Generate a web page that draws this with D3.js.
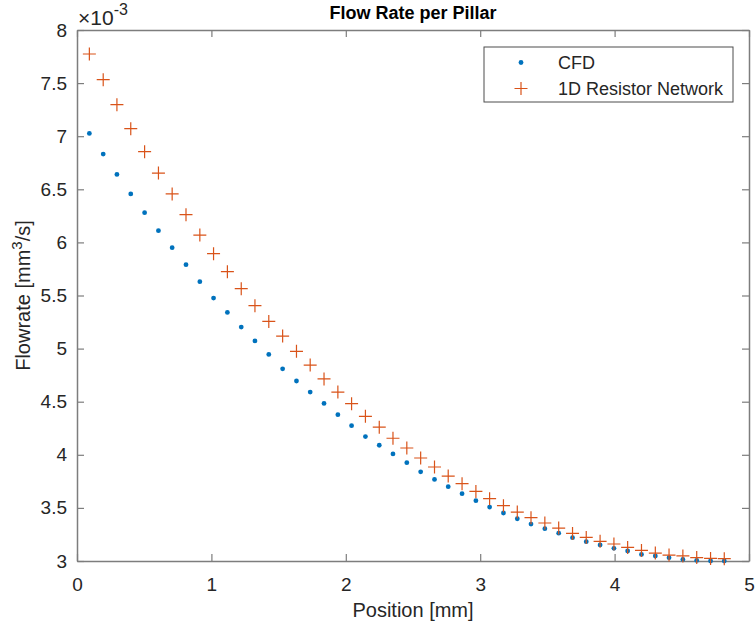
<!DOCTYPE html>
<html>
<head>
<meta charset="utf-8">
<script src="https://cdn.jsdelivr.net/npm/d3@7"></script>
<style>
  body { margin: 0; background: #fff; }
  svg { font-family: "Liberation Sans", Arial, Helvetica, sans-serif; }
</style>
</head>
<body>
<svg id="chart" width="756" height="628"></svg>
<script>
// pillar positions [mm]
var positions = [0.092, 0.195, 0.297, 0.400, 0.503, 0.606, 0.708, 0.811, 0.914, 1.016,
  1.119, 1.222, 1.324, 1.427, 1.530, 1.633, 1.735, 1.838, 1.941, 2.043,
  2.146, 2.249, 2.351, 2.454, 2.557, 2.660, 2.762, 2.865, 2.968, 3.070,
  3.173, 3.276, 3.378, 3.481, 3.584, 3.687, 3.789, 3.892, 3.995, 4.097,
  4.200, 4.303, 4.405, 4.508, 4.611, 4.714, 4.816];

// flowrate, x10^-3 mm^3/s
var cfdFlow = [7.026, 6.832, 6.640, 6.456, 6.280, 6.110, 5.950, 5.790, 5.630, 5.476,
  5.341, 5.203, 5.072, 4.945, 4.810, 4.695, 4.591, 4.484, 4.378, 4.274,
  4.172, 4.090, 4.008, 3.926, 3.840, 3.768, 3.700, 3.634, 3.568, 3.508,
  3.452, 3.398, 3.348, 3.304, 3.262, 3.220, 3.182, 3.151, 3.119, 3.094,
  3.062, 3.047, 3.031, 3.015, 3.005, 3.000, 3.000];

var resistorFlow = [7.774, 7.532, 7.297, 7.071, 6.854, 6.653, 6.456, 6.261, 6.069, 5.894,
  5.724, 5.564, 5.404, 5.256, 5.118, 4.974, 4.845, 4.714, 4.591, 4.481,
  4.362, 4.260, 4.156, 4.064, 3.970, 3.885, 3.800, 3.728, 3.655, 3.587,
  3.521, 3.461, 3.408, 3.358, 3.310, 3.260, 3.222, 3.185, 3.160, 3.128,
  3.100, 3.075, 3.056, 3.048, 3.032, 3.024, 3.022];

var xTicks = [0, 1, 2, 3, 4, 5];
var yTicks = [3, 3.5, 4, 4.5, 5, 5.5, 6, 6.5, 7, 7.5, 8];
var seriesNames = ["CFD", "1D Resistor Network"];

var blue = "#0072BD", orange = "#D95319", axisCol = "#7d7d7d", textCol = "#262626";

var margin = {top: 30, right: 7, bottom: 67, left: 77},
    width = 756 - margin.left - margin.right,
    height = 628 - margin.top - margin.bottom;

var svg = d3.select("#chart");
var g = svg.append("g")
    .attr("transform", "translate(" + margin.left + "," + margin.top + ")");

var x = d3.scaleLinear().domain([0, 5]).range([0, width]);
var y = d3.scaleLinear().domain([3, 8]).range([height, 0]);

var fmt = function (d) { return d3.format("")(d); };

// axes, ticks pointing inward like matlab
var xAxis = d3.axisBottom(x).tickValues(xTicks).tickSizeInner(-7).tickSizeOuter(0).tickPadding(17).tickFormat(fmt);
var yAxis = d3.axisLeft(y).tickValues(yTicks).tickSizeInner(-7).tickSizeOuter(0).tickPadding(10).tickFormat(fmt);
var xTop = d3.axisTop(x).tickValues(xTicks).tickSizeInner(-7).tickSizeOuter(0).tickFormat("");
var yRight = d3.axisRight(y).tickValues(yTicks).tickSizeInner(-7).tickSizeOuter(0).tickFormat("");

g.append("g").attr("class", "axis").attr("transform", "translate(0," + height + ")").call(xAxis);
g.append("g").attr("class", "axis").call(yAxis);
g.append("g").attr("class", "axis").call(xTop);
g.append("g").attr("class", "axis").attr("transform", "translate(" + width + ",0)").call(yRight);

g.selectAll(".axis .domain").attr("stroke", axisCol).attr("stroke-width", 1.5);
g.selectAll(".axis .tick line").attr("stroke", axisCol).attr("stroke-width", 1.2);
g.selectAll(".axis .tick text").attr("fill", textCol).style("font-size", "19px");

// exponent label
var expo = g.append("text").attr("x", 1).attr("y", -5).attr("fill", textCol).style("font-size", "21px");
expo.append("tspan").text("\u00d710");
expo.append("tspan").attr("dy", -10).style("font-size", "16px").text("-3");

// CFD dots
g.selectAll(".cfd")
  .data(positions)
  .enter().append("circle")
    .attr("class", "cfd")
    .attr("cx", function (d) { return x(d); })
    .attr("cy", function (d, i) { return y(cfdFlow[i]); })
    .attr("r", 2.4)
    .attr("fill", blue);

// resistor network crosses
g.selectAll(".res")
  .data(positions)
  .enter().append("path")
    .attr("class", "res")
    .attr("transform", function (d, i) { return "translate(" + x(d) + "," + y(resistorFlow[i]) + ")"; })
    .attr("d", "M-6.5,0H6.5M0,-6.5V6.5")
    .attr("stroke", orange)
    .attr("stroke-width", 1.2)
    .attr("fill", "none");

// title + labels
svg.append("text")
  .attr("x", margin.left + width / 2).attr("y", 19)
  .attr("text-anchor", "middle")
  .attr("fill", "#000")
  .style("font-size", "18px").style("font-weight", "bold")
  .text("Flow Rate per Pillar");

svg.append("text")
  .attr("x", margin.left + width / 2).attr("y", 617)
  .attr("text-anchor", "middle")
  .attr("fill", textCol)
  .style("font-size", "20px")
  .text("Position [mm]");

var yl = svg.append("text")
  .attr("transform", "translate(30," + (margin.top + height / 2) + ")rotate(-90)")
  .attr("text-anchor", "middle")
  .attr("fill", textCol)
  .style("font-size", "20px");
yl.append("tspan").text("Flowrate [mm");
yl.append("tspan").attr("dy", -8).style("font-size", "15px").text("3");
yl.append("tspan").attr("dy", 8).text("/s]");

// legend
var legend = g.append("g").attr("transform", "translate(" + (484 - margin.left) + "," + (47 - margin.top) + ")");
legend.append("rect")
  .attr("width", 249).attr("height", 55)
  .attr("fill", "#fff").attr("stroke", "#4d4d4d").attr("stroke-width", 1);

var items = legend.selectAll(".item")
  .data(seriesNames)
  .enter().append("g")
    .attr("class", "item")
    .attr("transform", function (d, i) { return "translate(0," + (15.5 + i * 26) + ")"; });

items.filter(function (d, i) { return i == 0; }).append("circle")
  .attr("cx", 37).attr("cy", 0).attr("r", 2.4).attr("fill", blue);
items.filter(function (d, i) { return i == 1; }).append("path")
  .attr("transform", "translate(37,0)")
  .attr("d", "M-6.5,0H6.5M0,-6.5V6.5")
  .attr("stroke", orange).attr("stroke-width", 1.2);

items.append("text")
  .attr("x", 74).attr("y", 0).attr("dy", "0.35em")
  .attr("fill", textCol)
  .style("font-size", "18px")
  .text(function (d) { return d; });
</script>
</body>
</html>
